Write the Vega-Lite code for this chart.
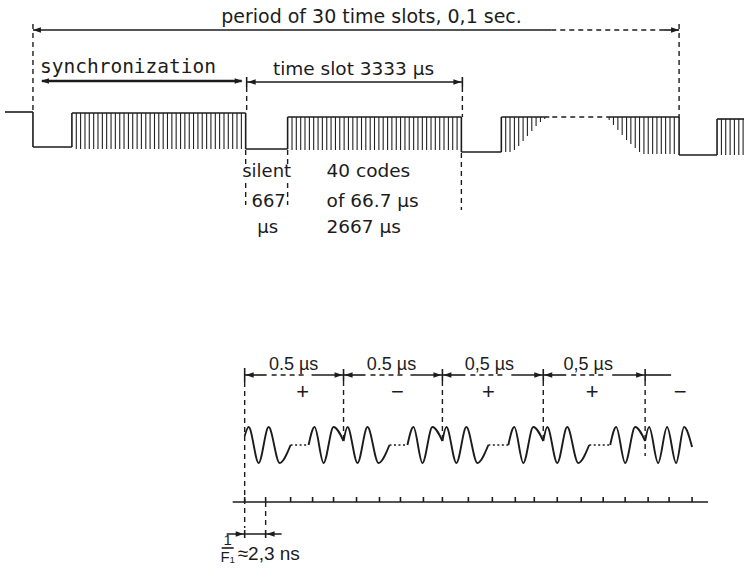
{
  "$schema": "https://vega.github.io/schema/vega-lite/v6.json",
  "width": 745,
  "height": 578,
  "autosize": {"type": "fit", "contains": "padding"},
  "padding": 0,
  "background": "white",
  "config": {"view": {"stroke": null}},
  "datasets": {
    "hatch": [
      {"x":76.4,"y":113,"y2":149},{"x":80.7,"y":113,"y2":149},{"x":85.1,"y":113,"y2":149},{"x":89.4,"y":113,"y2":149},{"x":93.8,"y":113,"y2":149},
      {"x":98.1,"y":113,"y2":149},{"x":102.5,"y":113,"y2":149},{"x":106.8,"y":113,"y2":149},{"x":111.2,"y":113,"y2":149},{"x":115.5,"y":113,"y2":149},
      {"x":119.9,"y":113,"y2":149},{"x":124.2,"y":113,"y2":149},{"x":128.6,"y":113,"y2":149},{"x":132.9,"y":113,"y2":149},{"x":137.3,"y":113,"y2":149},
      {"x":141.6,"y":113,"y2":149},{"x":146.0,"y":113,"y2":149},{"x":150.3,"y":113,"y2":149},{"x":154.7,"y":113,"y2":149},{"x":159.0,"y":113,"y2":149},
      {"x":163.4,"y":113,"y2":149},{"x":167.7,"y":113,"y2":149},{"x":172.1,"y":113,"y2":149},{"x":176.4,"y":113,"y2":149},{"x":180.8,"y":113,"y2":149},
      {"x":185.1,"y":113,"y2":149},{"x":189.5,"y":113,"y2":149},{"x":193.8,"y":113,"y2":149},{"x":198.2,"y":113,"y2":149},{"x":202.5,"y":113,"y2":149},
      {"x":206.9,"y":113,"y2":149},{"x":211.2,"y":113,"y2":149},{"x":215.6,"y":113,"y2":149},{"x":219.9,"y":113,"y2":149},{"x":224.3,"y":113,"y2":149},
      {"x":228.6,"y":113,"y2":149},{"x":233.0,"y":113,"y2":149},{"x":237.3,"y":113,"y2":149},{"x":241.7,"y":113,"y2":149},
      {"x":292.4,"y":117,"y2":150},{"x":296.7,"y":117,"y2":150},{"x":301.1,"y":117,"y2":150},{"x":305.4,"y":117,"y2":150},{"x":309.8,"y":117,"y2":150},
      {"x":314.1,"y":117,"y2":150},{"x":318.5,"y":117,"y2":150},{"x":322.8,"y":117,"y2":150},{"x":327.2,"y":117,"y2":150},{"x":331.5,"y":117,"y2":150},
      {"x":335.9,"y":117,"y2":150},{"x":340.2,"y":117,"y2":150},{"x":344.6,"y":117,"y2":150},{"x":348.9,"y":117,"y2":150},{"x":353.3,"y":117,"y2":150},
      {"x":357.6,"y":117,"y2":150},{"x":362.0,"y":117,"y2":150},{"x":366.3,"y":117,"y2":150},{"x":370.7,"y":117,"y2":150},{"x":375.0,"y":117,"y2":150},
      {"x":379.4,"y":117,"y2":150},{"x":383.7,"y":117,"y2":150},{"x":388.1,"y":117,"y2":150},{"x":392.4,"y":117,"y2":150},{"x":396.8,"y":117,"y2":150},
      {"x":401.1,"y":117,"y2":150},{"x":405.5,"y":117,"y2":150},{"x":409.8,"y":117,"y2":150},{"x":414.2,"y":117,"y2":150},{"x":418.5,"y":117,"y2":150},
      {"x":422.9,"y":117,"y2":150},{"x":427.2,"y":117,"y2":150},{"x":431.6,"y":117,"y2":150},{"x":435.9,"y":117,"y2":150},{"x":440.3,"y":117,"y2":150},
      {"x":444.6,"y":117,"y2":150},{"x":449.0,"y":117,"y2":150},{"x":453.3,"y":117,"y2":150},{"x":457.7,"y":117,"y2":150},
      {"x":506.4,"y":117,"y2":152},{"x":510.7,"y":117,"y2":152},{"x":515.1,"y":117,"y2":150},{"x":519.4,"y":117,"y2":146},{"x":523.8,"y":117,"y2":141},
      {"x":528.1,"y":117,"y2":136},{"x":532.5,"y":117,"y2":131},{"x":536.8,"y":117,"y2":126},{"x":541.2,"y":117,"y2":122},{"x":545.5,"y":117,"y2":119},
      {"x":610.0,"y":117,"y2":120},{"x":614.3,"y":117,"y2":125},{"x":618.7,"y":117,"y2":130},{"x":623.0,"y":117,"y2":135},{"x":627.4,"y":117,"y2":140},
      {"x":631.7,"y":117,"y2":144},{"x":636.1,"y":117,"y2":148},{"x":640.4,"y":117,"y2":152},{"x":644.8,"y":117,"y2":154},{"x":649.1,"y":117,"y2":154},
      {"x":653.5,"y":117,"y2":154},{"x":657.8,"y":117,"y2":154},{"x":662.2,"y":117,"y2":154},{"x":666.5,"y":117,"y2":154},{"x":670.9,"y":117,"y2":154},
      {"x":675.2,"y":117,"y2":154},
      {"x":722.4,"y":119,"y2":155},{"x":726.7,"y":119,"y2":155},{"x":731.1,"y":119,"y2":155},{"x":735.4,"y":119,"y2":155},{"x":739.8,"y":119,"y2":155},
      {"x":744.1,"y":119,"y2":155}
    ],
    "solid": [
      {"x":5,"y":112,"x2":33,"y2":112},{"x":33,"y":112,"x2":33,"y2":147},{"x":33,"y":147,"x2":72,"y2":147},{"x":72,"y":147,"x2":72,"y2":113},
      {"x":72,"y":113,"x2":246,"y2":113},{"x":246,"y":113,"x2":246,"y2":149},{"x":246,"y":149,"x2":288,"y2":149},{"x":288,"y":149,"x2":288,"y2":117},
      {"x":288,"y":117,"x2":462,"y2":117},{"x":462,"y":117,"x2":462,"y2":152},{"x":462,"y":152,"x2":502,"y2":152},{"x":502,"y":152,"x2":502,"y2":117},
      {"x":502,"y":117,"x2":550,"y2":117},{"x":607,"y":117,"x2":680,"y2":117},{"x":680,"y":117,"x2":680,"y2":155},{"x":680,"y":155,"x2":718,"y2":155},
      {"x":718,"y":155,"x2":718,"y2":119},{"x":718,"y":119,"x2":745,"y2":119},
      {"x":33,"y":30,"x2":552,"y2":30},{"x":664,"y":30,"x2":680,"y2":30},
      {"x":247,"y":82,"x2":463,"y2":82},{"x":247,"y":77,"x2":247,"y2":87},{"x":463,"y":77,"x2":463,"y2":87},
      {"x":245,"y":375,"x2":267,"y2":375},{"x":312,"y":375,"x2":344,"y2":375},
      {"x":344,"y":375,"x2":366,"y2":375},{"x":411,"y":375,"x2":443,"y2":375},
      {"x":443,"y":375,"x2":466,"y2":375},{"x":512,"y":375,"x2":544,"y2":375},
      {"x":544,"y":375,"x2":567,"y2":375},{"x":613,"y":375,"x2":646,"y2":375},
      {"x":646,"y":375,"x2":672,"y2":375},
      {"x":245,"y":368,"x2":245,"y2":382},{"x":344,"y":369,"x2":344,"y2":381},{"x":443,"y":369,"x2":443,"y2":381},
      {"x":544,"y":369,"x2":544,"y2":381},{"x":646,"y":369,"x2":646,"y2":381},
      {"x":233,"y":502,"x2":709,"y2":502},
      {"x":245,"y":497,"x2":245,"y2":502},{"x":266,"y":497,"x2":266,"y2":502},{"x":291,"y":497,"x2":291,"y2":502},
      {"x":313,"y":497,"x2":313,"y2":502},{"x":334,"y":497,"x2":334,"y2":502},{"x":357,"y":497,"x2":357,"y2":502},
      {"x":380,"y":497,"x2":380,"y2":502},{"x":401,"y":497,"x2":401,"y2":502},{"x":424,"y":497,"x2":424,"y2":502},
      {"x":443,"y":497,"x2":443,"y2":502},{"x":469,"y":497,"x2":469,"y2":502},{"x":493,"y":497,"x2":493,"y2":502},
      {"x":516,"y":497,"x2":516,"y2":502},{"x":535,"y":497,"x2":535,"y2":502},{"x":558,"y":497,"x2":558,"y2":502},
      {"x":582,"y":497,"x2":582,"y2":502},{"x":604,"y":497,"x2":604,"y2":502},{"x":626,"y":497,"x2":626,"y2":502},
      {"x":649,"y":497,"x2":649,"y2":502},{"x":670,"y":497,"x2":670,"y2":502},{"x":693,"y":497,"x2":693,"y2":502},
      {"x":227,"y":534,"x2":282,"y2":534},{"x":245,"y":530,"x2":245,"y2":538},{"x":266,"y":530,"x2":266,"y2":538},
      {"x":222,"y":548,"x2":234,"y2":548}
    ],
    "thick": [
      {"x":42,"y":81,"x2":242,"y2":81}
    ],
    "dashed": [
      {"x":552,"y":30,"x2":664,"y2":30},
      {"x":33,"y":24,"x2":33,"y2":112},{"x":680,"y":24,"x2":680,"y2":117},
      {"x":247,"y":87,"x2":247,"y2":113},{"x":463,"y":87,"x2":463,"y2":117},
      {"x":246,"y":150,"x2":246,"y2":166},{"x":246,"y":183,"x2":246,"y2":205},
      {"x":288,"y":150,"x2":288,"y2":166},{"x":288,"y":183,"x2":288,"y2":205},
      {"x":462,"y":153,"x2":462,"y2":210},
      {"x":553,"y":117,"x2":606,"y2":117},
      {"x":272,"y":375,"x2":307,"y2":375},{"x":371,"y":375,"x2":406,"y2":375},
      {"x":471,"y":375,"x2":507,"y2":375},{"x":572,"y":375,"x2":608,"y2":375},
      {"x":245,"y":382,"x2":245,"y2":528},{"x":344,"y":381,"x2":344,"y2":440},{"x":443,"y":381,"x2":443,"y2":440},
      {"x":544,"y":381,"x2":544,"y2":440},{"x":646,"y":381,"x2":646,"y2":456},
      {"x":266,"y":502,"x2":266,"y2":528}
    ],
    "dotted": [
      {"x":291,"y":445,"x2":309,"y2":445},{"x":390,"y":445,"x2":408,"y2":445},
      {"x":489,"y":445,"x2":509,"y2":445},{"x":590,"y":445,"x2":611,"y2":445}
    ],
    "wave": [
      {"p":"1a","x":245,"y":436},{"p":"1a","x":249,"y":427},{"p":"1a","x":259,"y":463},{"p":"1a","x":269,"y":427},{"p":"1a","x":280,"y":463},{"p":"1a","x":291,"y":445},
      {"p":"1b","x":309,"y":445},{"p":"1b","x":315,"y":427},{"p":"1b","x":324,"y":463},{"p":"1b","x":334,"y":427},{"p":"1b","x":344,"y":441},
      {"p":"2a","x":344,"y":441},{"p":"2a","x":348,"y":427},{"p":"2a","x":358,"y":463},{"p":"2a","x":368,"y":427},{"p":"2a","x":379,"y":463},{"p":"2a","x":390,"y":445},
      {"p":"2b","x":408,"y":445},{"p":"2b","x":414,"y":427},{"p":"2b","x":423,"y":463},{"p":"2b","x":433,"y":427},{"p":"2b","x":443,"y":441},
      {"p":"3a","x":443,"y":441},{"p":"3a","x":447,"y":427},{"p":"3a","x":457,"y":463},{"p":"3a","x":467,"y":427},{"p":"3a","x":478,"y":463},{"p":"3a","x":489,"y":445},
      {"p":"3b","x":509,"y":445},{"p":"3b","x":515,"y":427},{"p":"3b","x":524,"y":463},{"p":"3b","x":534,"y":427},{"p":"3b","x":544,"y":441},
      {"p":"4a","x":544,"y":441},{"p":"4a","x":548,"y":427},{"p":"4a","x":558,"y":463},{"p":"4a","x":568,"y":427},{"p":"4a","x":579,"y":463},{"p":"4a","x":590,"y":445},
      {"p":"4b","x":611,"y":445},{"p":"4b","x":617,"y":427},{"p":"4b","x":626,"y":463},{"p":"4b","x":636,"y":427},{"p":"4b","x":646,"y":441},
      {"p":"5a","x":646,"y":441},{"p":"5a","x":650,"y":427},{"p":"5a","x":659,"y":463},{"p":"5a","x":668,"y":427},{"p":"5a","x":677,"y":463},{"p":"5a","x":685,"y":427},{"p":"5a","x":693,"y":447}
    ],
    "arrows": [
      {"x":33,"y":30,"dir":"L"},{"x":680,"y":30,"dir":"R"},
      {"x":41,"y":81,"dir":"L"},{"x":243,"y":81,"dir":"R"},
      {"x":248,"y":82,"dir":"L"},{"x":462,"y":82,"dir":"R"},
      {"x":246,"y":375,"dir":"L"},{"x":343,"y":375,"dir":"R"},
      {"x":345,"y":375,"dir":"L"},{"x":442,"y":375,"dir":"R"},
      {"x":444,"y":375,"dir":"L"},{"x":543,"y":375,"dir":"R"},
      {"x":545,"y":375,"dir":"L"},{"x":645,"y":375,"dir":"R"},
      {"x":244,"y":534,"dir":"R"},{"x":267,"y":534,"dir":"L"}
    ],
    "title": [{"x":372,"y":22.5,"t":"period of 30 time slots, 0,1 sec."}],
    "slot": [{"x":354,"y":75,"t":"time slot 3333 µs"}],
    "sync": [{"x":40,"y":73,"t":"synchronization"}],
    "codes": [
      {"x":327,"y":177,"t":"40 codes"},{"x":327,"y":207,"t":"of 66.7 µs"},{"x":327,"y":233,"t":"2667 µs"}
    ],
    "silent": [
      {"x":267,"y":177,"t":"silent"},{"x":269,"y":207,"t":"667"},{"x":268,"y":233,"t":"µs"}
    ],
    "half": [
      {"x":294,"y":370,"t":"0.5 µs"},{"x":392,"y":370,"t":"0.5 µs"},{"x":490,"y":370,"t":"0,5 µs"},{"x":589,"y":370,"t":"0,5 µs"}
    ],
    "signs": [
      {"x":303,"y":399,"t":"+"},{"x":398,"y":399,"t":"−"},{"x":489,"y":399,"t":"+"},{"x":593,"y":399,"t":"+"},{"x":681,"y":399,"t":"−"}
    ],
    "ns": [{"x":238,"y":560,"t":"≈2,3 ns"}],
    "frac": [{"x":228,"y":545,"t":"1"},{"x":228,"y":562,"t":"F₁"}]
  },
  "encoding": {
    "x": {"field": "x", "type": "quantitative", "scale": {"domain": [0, 745], "nice": false, "zero": false}, "axis": null},
    "y": {"field": "y", "type": "quantitative", "scale": {"domain": [0, 578], "nice": false, "zero": false, "reverse": true}, "axis": null}
  },
  "layer": [
    {
      "data": {"name": "hatch"},
      "mark": {"type": "rule", "color": "#222222", "strokeWidth": 1.1},
      "encoding": {"y2": {"field": "y2"}}
    },
    {
      "data": {"name": "solid"},
      "mark": {"type": "rule", "color": "#1c1c1c", "strokeWidth": 1.6},
      "encoding": {"x2": {"field": "x2"}, "y2": {"field": "y2"}}
    },
    {
      "data": {"name": "thick"},
      "mark": {"type": "rule", "color": "#1c1c1c", "strokeWidth": 2.6},
      "encoding": {"x2": {"field": "x2"}, "y2": {"field": "y2"}}
    },
    {
      "data": {"name": "dashed"},
      "mark": {"type": "rule", "color": "#1c1c1c", "strokeWidth": 1.4, "strokeDash": [5, 4]},
      "encoding": {"x2": {"field": "x2"}, "y2": {"field": "y2"}}
    },
    {
      "data": {"name": "dotted"},
      "mark": {"type": "rule", "color": "#1c1c1c", "strokeWidth": 1.6, "strokeDash": [2, 2.5]},
      "encoding": {"x2": {"field": "x2"}, "y2": {"field": "y2"}}
    },
    {
      "data": {"name": "wave"},
      "mark": {"type": "line", "color": "#1c1c1c", "strokeWidth": 1.9, "interpolate": "monotone"},
      "encoding": {"detail": {"field": "p", "type": "nominal"}}
    },
    {
      "data": {"name": "arrows"},
      "mark": {"type": "point", "filled": true, "opacity": 1, "color": "#1c1c1c", "size": 64},
      "encoding": {
        "shape": {"field": "dir", "type": "nominal", "legend": null,
          "scale": {"domain": ["L", "R"], "range": ["M0,0L2,-0.7L2,0.7Z", "M0,0L-2,-0.7L-2,0.7Z"]}}
      }
    },
    {
      "data": {"name": "title"},
      "mark": {"type": "text", "font": "DejaVu Sans", "fontSize": 19, "align": "center", "baseline": "alphabetic", "color": "#1c1c1c"},
      "encoding": {"text": {"field": "t"}}
    },
    {
      "data": {"name": "slot"},
      "mark": {"type": "text", "font": "DejaVu Sans", "fontSize": 18.5, "align": "center", "baseline": "alphabetic", "color": "#1c1c1c"},
      "encoding": {"text": {"field": "t"}}
    },
    {
      "data": {"name": "sync"},
      "mark": {"type": "text", "font": "DejaVu Sans Mono", "fontSize": 19.5, "align": "left", "baseline": "alphabetic", "color": "#1c1c1c"},
      "encoding": {"text": {"field": "t"}}
    },
    {
      "data": {"name": "codes"},
      "mark": {"type": "text", "font": "DejaVu Sans", "fontSize": 18.5, "align": "left", "baseline": "alphabetic", "color": "#1c1c1c"},
      "encoding": {"text": {"field": "t"}}
    },
    {
      "data": {"name": "silent"},
      "mark": {"type": "text", "font": "DejaVu Sans", "fontSize": 18, "align": "center", "baseline": "alphabetic", "color": "#1c1c1c"},
      "encoding": {"text": {"field": "t"}}
    },
    {
      "data": {"name": "half"},
      "mark": {"type": "text", "font": "Liberation Sans", "fontSize": 18, "align": "center", "baseline": "alphabetic", "color": "#1c1c1c"},
      "encoding": {"text": {"field": "t"}}
    },
    {
      "data": {"name": "signs"},
      "mark": {"type": "text", "font": "Liberation Sans", "fontSize": 22, "align": "center", "baseline": "alphabetic", "color": "#1c1c1c"},
      "encoding": {"text": {"field": "t"}}
    },
    {
      "data": {"name": "ns"},
      "mark": {"type": "text", "font": "Liberation Sans", "fontSize": 19, "align": "left", "baseline": "alphabetic", "color": "#1c1c1c"},
      "encoding": {"text": {"field": "t"}}
    },
    {
      "data": {"name": "frac"},
      "mark": {"type": "text", "font": "Liberation Sans", "fontSize": 15, "align": "center", "baseline": "alphabetic", "color": "#1c1c1c"},
      "encoding": {"text": {"field": "t"}}
    }
  ]
}
